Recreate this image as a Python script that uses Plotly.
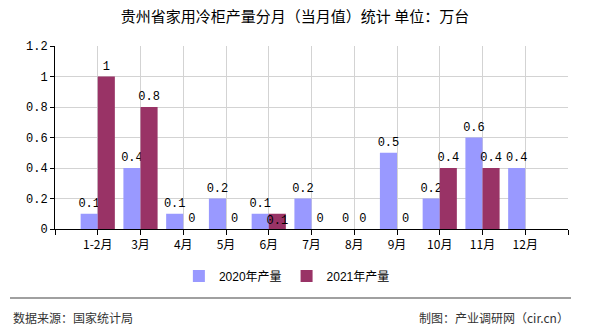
import plotly.graph_objects as go

categories = ["1-2月", "3月", "4月", "5月", "6月", "7月", "8月", "9月", "10月", "11月", "12月"]
series_2020 = [0.1, 0.4, 0.1, 0.2, 0.1, 0.2, 0, 0.5, 0.2, 0.6, 0.4]
series_2021 = [1, 0.8, 0, 0, 0.1, 0, 0, 0, 0.4, 0.4, None]
y_ticks = [0, 0.2, 0.4, 0.6, 0.8, 1, 1.2]
title_text = "贵州省家用冷柜产量分月（当月值）统计 单位：万台"
source_text = "数据来源：国家统计局"
credit_text = "制图：产业调研网（cir.cn）"

x_idx = list(range(len(categories)))
tickvals = list(range(-1, len(categories) + 1))
ticktext = [""] + categories + [""]

def fmt(v):
    if v is None:
        return ""
    return ("%g" % v)

label_font = dict(family="Liberation Mono, Noto Sans CJK SC", size=12, color="#000000")

pos2021 = ["outside"] * len(categories)
pos2021[4] = "inside"

fig = go.Figure()
fig.add_trace(go.Bar(
    x=x_idx, y=series_2020, name="2020年产量",
    marker=dict(color="#9999FF", line=dict(width=0)),
    text=[fmt(v) for v in series_2020], textposition="outside",
    textfont=label_font, cliponaxis=False, constraintext="none",
))
fig.add_trace(go.Bar(
    x=x_idx, y=series_2021, name="2021年产量",
    marker=dict(color="#993366", line=dict(width=0)),
    text=[fmt(v) for v in series_2021], textposition=pos2021,
    insidetextanchor="middle",
    textfont=label_font, cliponaxis=False, constraintext="none",
))

fig.update_layout(
    width=590, height=330,
    margin=dict(l=55, r=22, t=46, b=101),
    paper_bgcolor="white", plot_bgcolor="white",
    barmode="group", bargap=0.2, bargroupgap=0,
    showlegend=True,
    legend=dict(orientation="h", x=0.452, xanchor="center", y=-0.257, yanchor="middle",
                font=dict(family="Liberation Sans, Noto Sans CJK SC", size=12, color="#000000"),
                itemwidth=30, traceorder="normal"),
    title=dict(text=title_text, x=0.5, xanchor="center", y=1 - 17 / 330, yanchor="middle",
               font=dict(family="Noto Sans CJK SC", size=15, color="#000000")),
    font=dict(family="Noto Sans CJK SC", size=12, color="#000000"),
)

fig.update_xaxes(
    range=[-1, len(categories)], tickmode="array", tickvals=tickvals, ticktext=ticktext,
    showgrid=True, gridcolor="#D3D3D3", gridwidth=1,
    showline=True, linecolor="#000000", linewidth=1,
    ticks="outside", ticklen=5, tickcolor="#000000",
    tickfont=dict(family="Noto Sans CJK SC", size=12, color="#000000"),
    zeroline=False, fixedrange=True,
)
fig.update_yaxes(
    range=[0, 1.2], tickmode="array", tickvals=y_ticks, ticktext=[fmt(v) for v in y_ticks],
    showgrid=True, gridcolor="#D3D3D3", gridwidth=1,
    showline=True, linecolor="#000000", linewidth=1,
    ticks="outside", ticklen=4, tickcolor="#000000",
    tickfont=dict(family="Liberation Mono", size=12, color="#000000"),
    zeroline=False, fixedrange=True,
)

fig.add_shape(type="line", xref="paper", yref="paper",
              x0=(10 - 55) / 513, x1=(571 - 55) / 513, y0=-(298 - 229) / 183, y1=-(298 - 229) / 183,
              line=dict(color="#808080", width=1.5))
fig.add_annotation(text=source_text, xref="paper", yref="paper",
                   x=(11 - 55) / 513, xanchor="left", y=-(317 - 229) / 183, yanchor="middle",
                   showarrow=False, font=dict(family="Noto Sans CJK SC", size=12, color="#333333"))
fig.add_annotation(text=credit_text, xref="paper", yref="paper",
                   x=(571 - 55) / 513, xanchor="right", y=-(317 - 229) / 183, yanchor="middle",
                   showarrow=False, font=dict(family="Noto Sans CJK SC", size=12, color="#333333"))

fig.write_html("out.html")
